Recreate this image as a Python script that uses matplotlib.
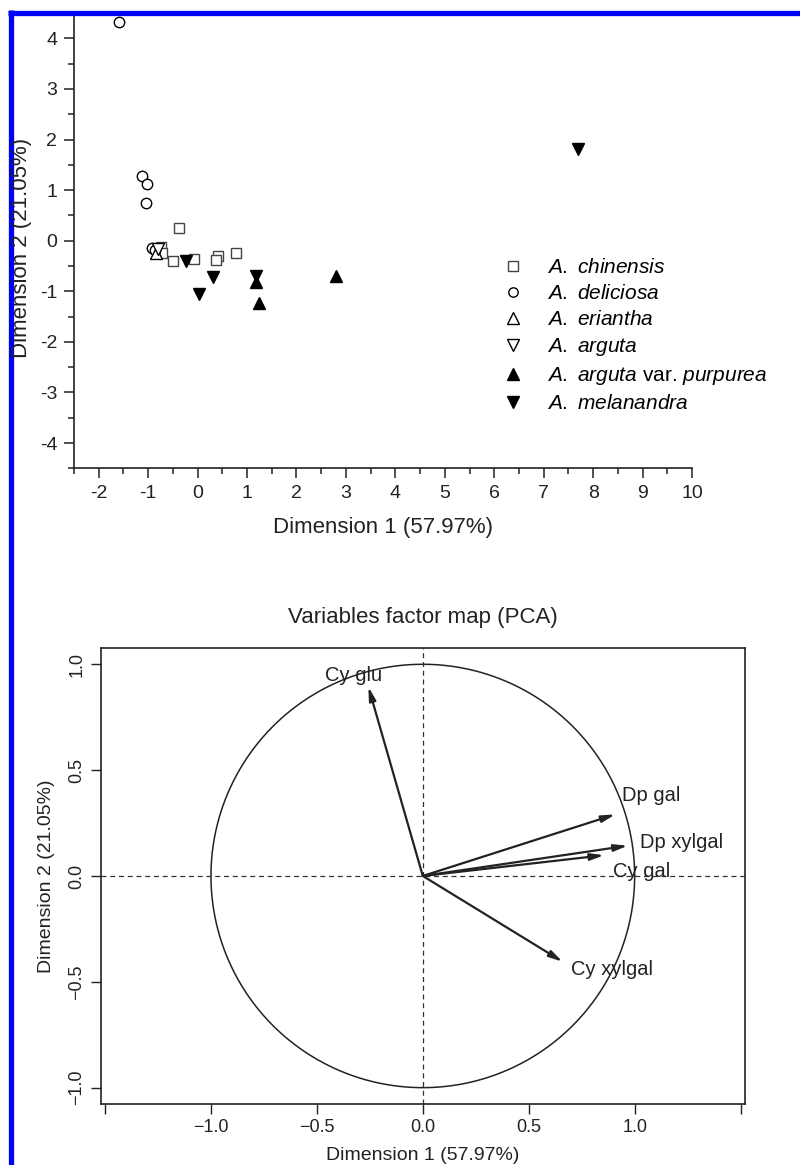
import numpy as np
import matplotlib
matplotlib.use('Agg')
import matplotlib.pyplot as plt
from matplotlib.lines import Line2D
from matplotlib.ticker import MultipleLocator

plt.rcParams['font.family'] = ['Liberation Sans', 'DejaVu Sans']
plt.rcParams['mathtext.fontset'] = 'custom'
plt.rcParams['mathtext.rm'] = 'Liberation Sans'
plt.rcParams['mathtext.it'] = 'Liberation Sans:italic'

# --- individuals map (scores on dimensions 1 and 2) ---
chinensis_x = [-0.38, -0.74, -0.71, -0.49, -0.08, 0.41, 0.38, 0.77]
chinensis_y = [0.26, -0.12, -0.24, -0.41, -0.37, -0.30, -0.38, -0.24]
deliciosa_x = [-1.58, -1.13, -1.03, -1.05, -0.93, -0.87]
deliciosa_y = [4.32, 1.28, 1.13, 0.74, -0.14, -0.19]
eriantha_x = [-0.84]
eriantha_y = [-0.24]
arguta_x = [-0.80]
arguta_y = [-0.17]
purpurea_x = [1.19, 1.24, 2.79]
purpurea_y = [-0.82, -1.24, -0.70]
melanandra_x = [-0.23, 0.32, 0.02, 1.19, 7.70]
melanandra_y = [-0.41, -0.72, -1.06, -0.69, 1.82]

# --- variables factor map (correlations) ---
var_names = ['Cy glu', 'Dp gal', 'Dp xylgal', 'Cy gal', 'Cy xylgal']
var_dim1 = [-0.257, 0.909, 0.968, 0.856, 0.660]
var_dim2 = [0.894, 0.291, 0.143, 0.098, -0.405]
label_dx = [-0.068, 0.169, 0.254, 0.178, 0.232]
label_dy = [0.055, 0.087, 0.013, -0.078, -0.039]

fig = plt.figure(figsize=(8, 11.65), dpi=100)

# ---------------- top panel ----------------
ax1 = fig.add_axes([0.0925, 0.598, 0.7725, 0.3908])
groups = [
    (chinensis_x, chinensis_y, 's', 'white', '#444444', r'$\mathit{A.\ chinensis}$'),
    (deliciosa_x, deliciosa_y, 'o', 'white', 'black', r'$\mathit{A.\ deliciosa}$'),
    (eriantha_x, eriantha_y, '^', 'white', 'black', r'$\mathit{A.\ eriantha}$'),
    (arguta_x, arguta_y, 'v', 'white', 'black', r'$\mathit{A.\ arguta}$'),
    (purpurea_x, purpurea_y, '^', 'black', 'black', r'$\mathit{A.\ arguta}$ var. $\mathit{purpurea}$'),
    (melanandra_x, melanandra_y, 'v', 'black', 'black', r'$\mathit{A.\ melanandra}$'),
]
for gx, gy, mk, fc, ec, lab in groups:
    ms = 7.5 if mk in ('s', 'o') else 9
    ax1.plot(gx, gy, mk, ms=ms, mfc=fc, mec=ec, mew=1.0, ls='none', label=lab,
             clip_on=False)

ax1.set_xlim(-2.5, 10)
ax1.set_ylim(-4.5, 4.5)
ax1.xaxis.set_minor_locator(MultipleLocator(0.5))
ax1.yaxis.set_minor_locator(MultipleLocator(0.5))
ax1.set_xticks(np.arange(-2, 11, 1))
ax1.set_yticks(np.arange(-4, 5, 1))
ax1.set_xticklabels([str(v) for v in range(-2, 11)])
ax1.set_yticklabels([str(v) for v in range(-4, 5)])
ax1.tick_params(which='major', direction='out', length=7, width=1.1,
                labelsize=14, color='#222222', labelcolor='#222222', pad=5)
ax1.tick_params(which='minor', direction='out', length=4, width=1.1, color='#222222')
for s in ['top', 'right']:
    ax1.spines[s].set_visible(False)
for s in ['left', 'bottom']:
    ax1.spines[s].set_linewidth(1.2)
    ax1.spines[s].set_color('#222222')
ax1.set_xlabel('Dimension 1 (57.97%)', fontsize=16, color='#222222', labelpad=11)
fig.text(22 / 800, 1 - 248 / 1165, 'Dimension 2 (21.05%)', rotation=90,
         ha='center', va='center', fontsize=16, color='#222222')

ax1.legend(loc='upper left', bbox_to_anchor=(0.695, 0.462), frameon=False,
           fontsize=15, handlelength=0.95, handletextpad=1.15, labelspacing=0.34,
           borderpad=0, borderaxespad=0, markerscale=0.9)

# ---------------- bottom panel ----------------
ax2 = fig.add_axes([0.126, 0.0524, 0.805, 0.3914])
ax2.set_xlim(-1.52, 1.52)
ax2.set_ylim(-1.077, 1.077)

theta = np.linspace(0, 2 * np.pi, 400)
ax2.plot(np.cos(theta), np.sin(theta), color='#222222', lw=1.1)
ax2.axhline(0, color='#333333', lw=0.9, ls=(0, (4, 3)))
ax2.axvline(0, color='#333333', lw=0.9, ls=(0, (4, 3)))

for name, x, y, dx, dy in zip(var_names, var_dim1, var_dim2, label_dx, label_dy):
    ax2.annotate('', xy=(x, y), xytext=(0, 0),
                 arrowprops=dict(arrowstyle='-|>,head_length=0.8,head_width=0.2',
                                 color='#222222', lw=1.6, shrinkA=0, shrinkB=0))
    ax2.text(x + dx, y + dy, name, ha='center', va='center', fontsize=14.5,
             color='#222222')

ax2.set_xticks([-1.5, -1.0, -0.5, 0.0, 0.5, 1.0, 1.5])
ax2.set_xticklabels(['', '\u22121.0', '\u22120.5', '0.0', '0.5', '1.0', ''])
ax2.set_yticks([-1.0, -0.5, 0.0, 0.5, 1.0])
ax2.set_yticklabels(['\u22121.0', '\u22120.5', '0.0', '0.5', '1.0'],
                    rotation=90, va='center')
ax2.tick_params(direction='out', length=7, width=1.0, labelsize=13,
                color='#222222', labelcolor='#222222', pad=4)
for s in ax2.spines.values():
    s.set_linewidth(1.2)
    s.set_color('#222222')
ax2.set_title('Variables factor map (PCA)', fontsize=16, color='#222222', pad=18)
ax2.set_ylabel('Dimension 2 (21.05%)', fontsize=14, color='#222222', labelpad=10)
fig.text(423 / 800, 1.5 / 1165, 'Dimension 1 (57.97%)', ha='center',
         va='bottom', fontsize=14, color='#222222')

# blue frame of the figure panel
fig.add_artist(Line2D([10.5 / 800, 10.5 / 800], [0, 1 - 10 / 1165],
                      transform=fig.transFigure, color='#0000ff', lw=3.8,
                      solid_capstyle='butt'))
fig.add_artist(Line2D([8 / 800, 1], [1 - 12.5 / 1165, 1 - 12.5 / 1165],
                      transform=fig.transFigure, color='#0000ff', lw=3.8,
                      solid_capstyle='butt'))

fig.savefig('out.png', dpi=100, facecolor='white')
